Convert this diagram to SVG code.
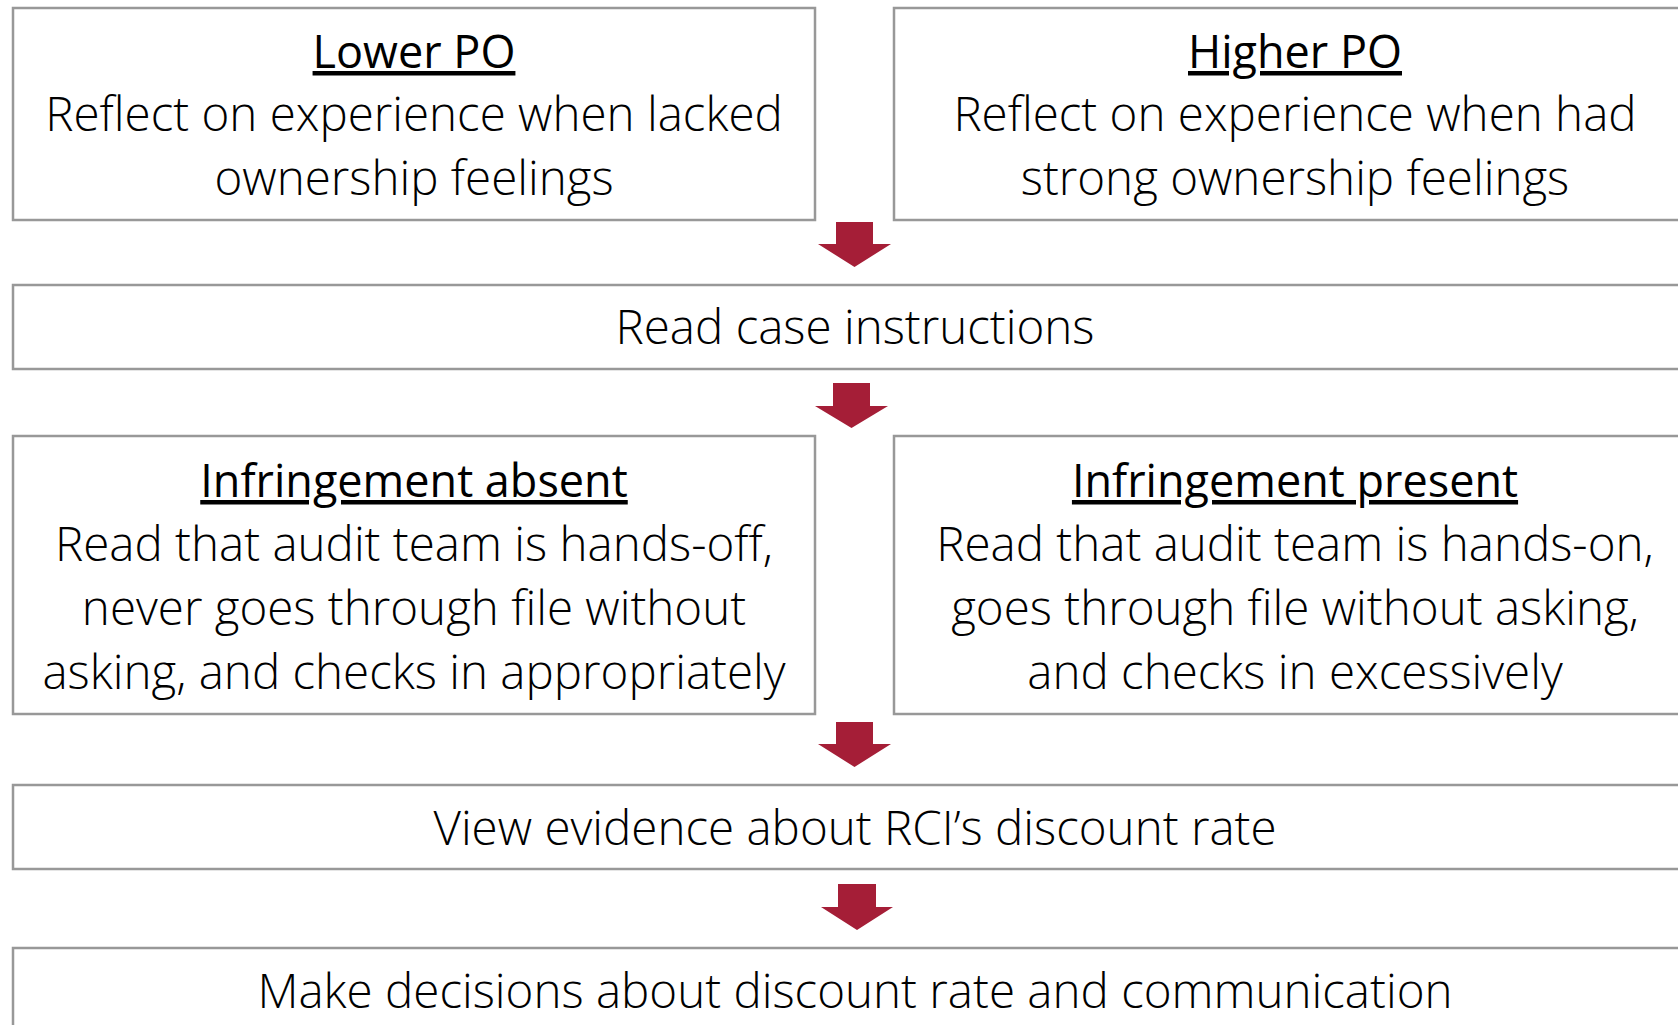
<svg xmlns="http://www.w3.org/2000/svg" width="1678" height="1025" viewBox="0 0 1678 1025">
<style>
.box{fill:#fff;stroke:#989898;stroke-width:2.5}
.t{font-family:"Open Sans","Liberation Sans",sans-serif;font-size:47.5px;font-weight:300;fill:#000;text-anchor:middle}
.h{font-size:45px;font-weight:400;text-decoration:underline}
.arr{fill:#A51E37}
</style>
<rect width="1678" height="1025" fill="#fff"/>
<g id="lowerPO">
<rect class="box" x="13" y="8" width="802" height="212"/>
<text class="t h" x="414" y="68">Lower PO</text>
<text class="t" x="414" y="131">Reflect on experience when lacked</text>
<text class="t" x="414" y="195">ownership feelings</text>
</g>
<g id="higherPO">
<rect class="box" x="894" y="8" width="802" height="212"/>
<text class="t h" x="1295" y="68">Higher PO</text>
<text class="t" x="1295" y="131">Reflect on experience when had</text>
<text class="t" x="1295" y="195">strong ownership feelings</text>
</g>
<g id="readCase">
<rect class="box" x="13" y="285" width="1683" height="84"/>
<text class="t" x="855" y="344">Read case instructions</text>
</g>
<g id="infAbsent">
<rect class="box" x="13" y="436" width="802" height="278"/>
<text class="t h" x="414" y="497">Infringement absent</text>
<text class="t" x="414" y="561">Read that audit team is hands-off,</text>
<text class="t" x="414" y="625">never goes through file without</text>
<text class="t" x="414" y="689">asking, and checks in appropriately</text>
</g>
<g id="infPresent">
<rect class="box" x="894" y="436" width="802" height="278"/>
<text class="t h" x="1295" y="497">Infringement present</text>
<text class="t" x="1295" y="561">Read that audit team is hands-on,</text>
<text class="t" x="1295" y="625">goes through file without asking,</text>
<text class="t" x="1295" y="689">and checks in excessively</text>
</g>
<g id="viewEvidence">
<rect class="box" x="13" y="785" width="1683" height="84"/>
<text class="t" x="855" y="845">View evidence about RCI’s discount rate</text>
</g>
<g id="makeDecisions">
<rect class="box" x="13" y="948" width="1683" height="100"/>
<text class="t" x="855" y="1008">Make decisions about discount rate and communication</text>
</g>
<g id="connectors">
<polygon class="arr" points="836,222 873,222 873,244 891,244 854.5,267 818,244 836,244"/>
<polygon class="arr" points="833,383 870,383 870,406 888,406 851.5,428 815,406 833,406"/>
<polygon class="arr" points="836,722 873,722 873,744 891,744 854.5,767 818,744 836,744"/>
<polygon class="arr" points="838,884 876,884 876,907 893,907 857,930 821,907 838,907"/>
</g>
</svg>
